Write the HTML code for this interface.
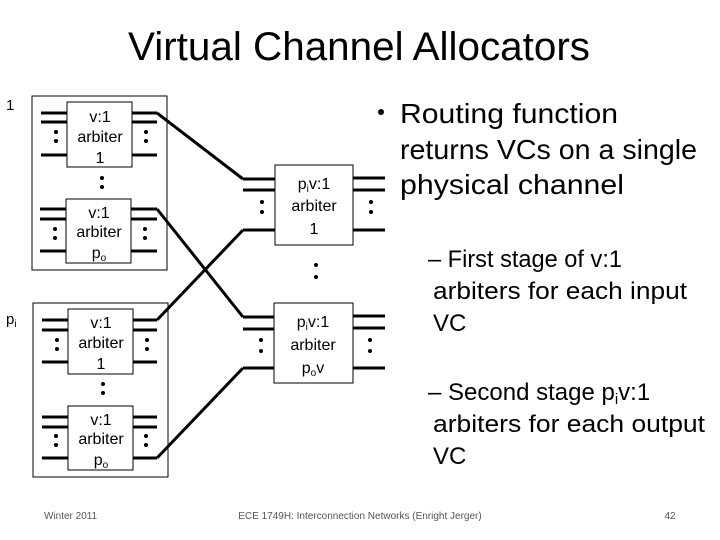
<!DOCTYPE html>
<html><head><style>
body{margin:0;width:720px;height:540px;background:#fff;overflow:hidden;font-family:"Liberation Sans",sans-serif;}
</style></head><body>
<svg width="720" height="540" style="position:absolute;left:0;top:0" font-family="Liberation Sans, sans-serif">
<g fill="none" stroke="#000">
<rect x="32" y="96" width="135" height="174" stroke-width="1"/>
<rect x="33" y="303" width="135" height="174" stroke-width="1"/>
<rect x="67" y="102" width="65" height="65"/>
<rect x="66" y="199" width="65" height="64"/>
<rect x="68" y="309" width="65" height="65"/>
<rect x="68" y="406" width="65" height="64"/>
<rect x="275" y="165" width="78" height="80"/>
<rect x="274" y="303" width="79" height="80"/>
<g stroke-width="3">
<path d="M41 113H67M41 122H67M41 155H67M132 113H157M132 122H157M132 155H157"/>
<path d="M40 209H66M40 219H66M40 251H66M131 209H157M131 219H157M131 251H157"/>
<path d="M42 320H68M42 330H68M42 362H68M133 320H157M133 330H157M133 362H157"/>
<path d="M42 417H68M42 427H68M42 458H68M133 417H157M133 427H157M133 458H157"/>
<path d="M243 179H275M243 190H275M243 230H275M353 178H385M353 190H385M353 230H385"/>
<path d="M243 317H274M243 329H274M243 368H274M353 316H385M353 328H385M353 368H385"/>
<path d="M157 113L243 179M157 209L243 317M157 320L243 230M157 458L243 368"/>
</g></g>
<g fill="#000">
<circle cx="56" cy="132" r="2"/><circle cx="56" cy="141" r="2"/><circle cx="146" cy="132" r="2"/><circle cx="146" cy="141" r="2"/>
<circle cx="102" cy="178" r="2"/><circle cx="102" cy="187" r="2"/>
<circle cx="55" cy="229" r="2"/><circle cx="55" cy="238" r="2"/><circle cx="145" cy="229" r="2"/><circle cx="145" cy="238" r="2"/>
<circle cx="57" cy="340" r="2"/><circle cx="57" cy="349" r="2"/><circle cx="147" cy="340" r="2"/><circle cx="147" cy="349" r="2"/>
<circle cx="103" cy="384" r="2"/><circle cx="103" cy="393" r="2"/>
<circle cx="56" cy="436" r="2"/><circle cx="56" cy="445" r="2"/><circle cx="146" cy="436" r="2"/><circle cx="146" cy="445" r="2"/>
<circle cx="262" cy="202" r="2"/><circle cx="262" cy="212" r="2"/><circle cx="371" cy="202" r="2"/><circle cx="371" cy="212" r="2"/>
<circle cx="316" cy="265" r="2"/><circle cx="316" cy="277" r="2"/>
<circle cx="261" cy="340" r="2"/><circle cx="261" cy="351" r="2"/><circle cx="370" cy="340" r="2"/><circle cx="370" cy="351" r="2"/>
<circle cx="381" cy="112" r="3"/>
</g>
<g font-size="16" text-anchor="middle">
<text x="100" y="122">v:1</text><text x="100" y="142">arbiter</text><text x="100" y="163">1</text>
<text x="99" y="218">v:1</text><text x="99" y="237">arbiter</text><text x="99" y="258">p<tspan font-size="10" dy="3">o</tspan></text>
<text x="101" y="328">v:1</text><text x="101" y="348">arbiter</text><text x="101" y="369">1</text>
<text x="101" y="425">v:1</text><text x="101" y="444">arbiter</text><text x="101" y="465">p<tspan font-size="10" dy="3">o</tspan></text>
<text x="314" y="189">p<tspan font-size="10" dy="3">i</tspan><tspan dy="-3">v:1</tspan></text><text x="314" y="211">arbiter</text><text x="314" y="234">1</text>
<text x="313" y="327">p<tspan font-size="10" dy="3">i</tspan><tspan dy="-3">v:1</tspan></text><text x="313" y="350">arbiter</text><text x="313" y="373">p<tspan font-size="10" dy="3">o</tspan><tspan dy="-3">v</tspan></text>
</g>
<text x="6" y="110" font-size="15">1</text>
<text x="6" y="324" font-size="15">p<tspan font-size="10" dy="3">i</tspan></text>
<text x="128" y="60" font-size="40" textLength="462" lengthAdjust="spacingAndGlyphs">Virtual Channel Allocators</text>
<g font-size="28">
<text x="400" y="123" textLength="218" lengthAdjust="spacingAndGlyphs">Routing function</text>
<text x="400" y="159" textLength="297" lengthAdjust="spacingAndGlyphs">returns VCs on a single</text>
<text x="400" y="194" textLength="224" lengthAdjust="spacingAndGlyphs">physical channel</text>
</g>
<g font-size="24">
<text x="428" y="267" textLength="194" lengthAdjust="spacingAndGlyphs">– First stage of v:1</text>
<text x="433" y="299" textLength="254" lengthAdjust="spacingAndGlyphs">arbiters for each input</text>
<text x="433" y="331">VC</text>
<text x="428" y="400">– Second stage p<tspan font-size="15" dy="4">i</tspan><tspan dy="-4">v:1</tspan></text>
<text x="433" y="432" textLength="272" lengthAdjust="spacingAndGlyphs">arbiters for each output</text>
<text x="433" y="464">VC</text>
</g>
<g font-size="10" fill="#555">
<text x="44" y="519">Winter 2011</text>
<text x="360" y="519" text-anchor="middle">ECE 1749H: Interconnection Networks (Enright Jerger)</text>
<text x="670" y="519" text-anchor="middle">42</text>
</g>
</svg>
</body></html>
